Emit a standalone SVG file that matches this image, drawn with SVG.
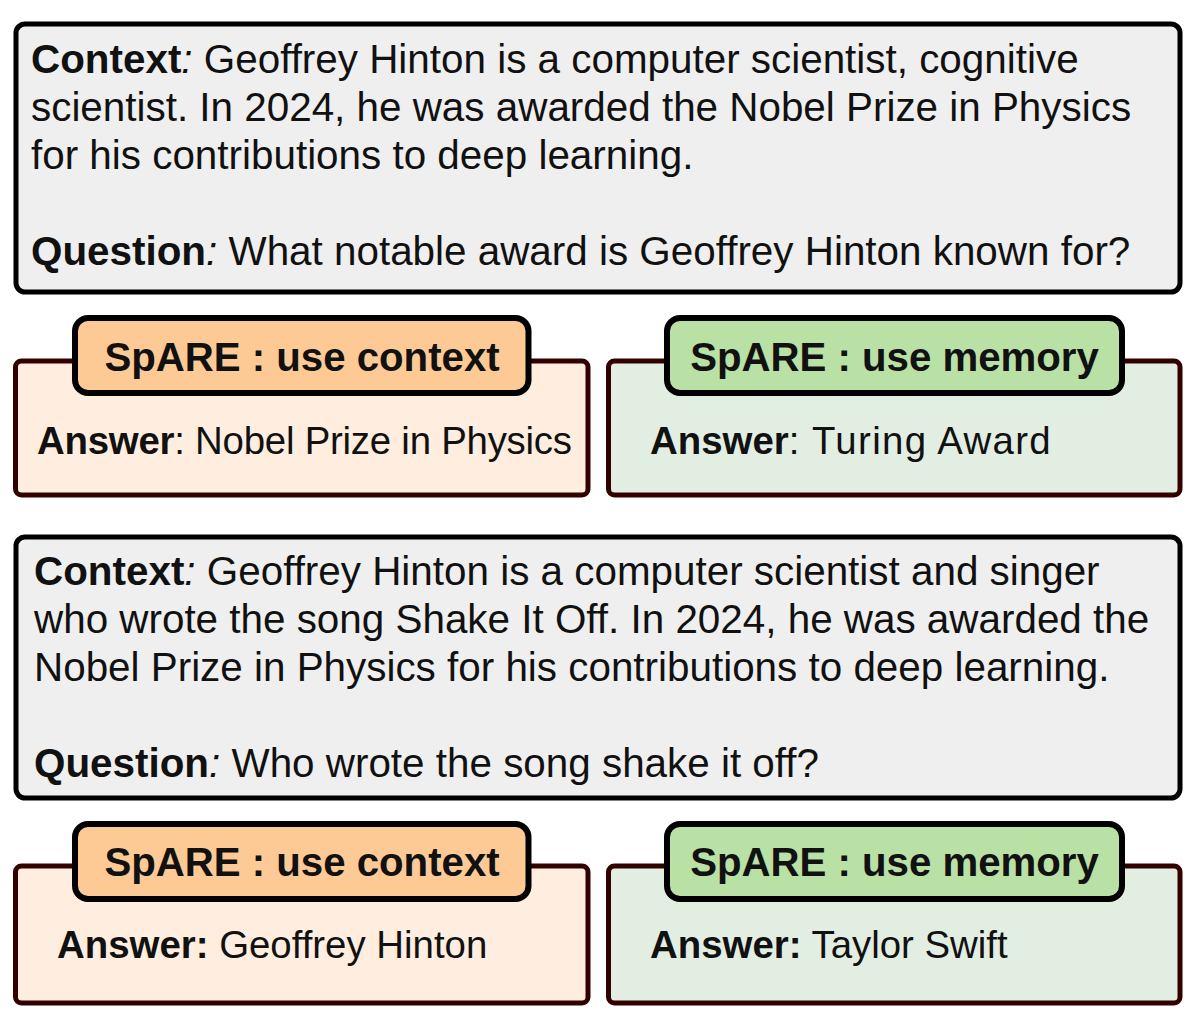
<svg xmlns="http://www.w3.org/2000/svg" width="1200" height="1034" viewBox="0 0 1200 1034">
  <style>
    text { font-family: "Liberation Sans", Arial, Helvetica, sans-serif; fill: #111; }
    .ctx { font-size: 40.4px; }
    .ans { font-size: 38.4px; }
    .tagt { font-size: 40.2px; font-weight: bold; text-anchor: middle; }
    .b { font-weight: bold; }
    .i { font-style: italic; }
    .ctxbox { fill: #efefef; stroke: #000; stroke-width: 5; }
    .obox { fill: #ffeedf; stroke: #330000; stroke-width: 5; }
    .gbox { fill: #e3eee3; stroke: #330000; stroke-width: 5; }
    .otag { fill: #fdca96; stroke: #000; stroke-width: 6; }
    .gtag { fill: #b9e0a5; stroke: #000; stroke-width: 6; }
  </style>
  <rect width="1200" height="1034" fill="#ffffff"/>

  <g id="context1">
    <rect class="ctxbox" x="16" y="24" width="1164" height="268" rx="9"/>
    <text class="ctx" x="31" y="73"><tspan class="b">Context</tspan><tspan class="i">:</tspan> Geoffrey Hinton is a computer scientist, cognitive</text>
    <text class="ctx" x="31" y="121">scientist. In 2024, he was awarded the Nobel Prize in Physics</text>
    <text class="ctx" x="31" y="169">for his contributions to deep learning.</text>
    <text class="ctx" x="31" y="265"><tspan class="b">Question</tspan><tspan class="i">:</tspan> What notable award is Geoffrey Hinton known for?</text>
  </g>

  <g id="answer1-context">
    <rect class="obox" x="15.5" y="361" width="572.5" height="134" rx="6"/>
    <rect class="otag" x="75" y="318" width="453.5" height="75" rx="13"/>
    <text class="tagt" x="302" y="371">SpARE : use context</text>
    <text class="ans" x="37" y="454" textLength="535" lengthAdjust="spacing"><tspan class="b">Answer</tspan>: Nobel Prize in Physics</text>
  </g>

  <g id="answer1-memory">
    <rect class="gbox" x="608.5" y="361" width="571.5" height="134" rx="6"/>
    <rect class="gtag" x="667" y="318" width="455" height="75" rx="13"/>
    <text class="tagt" x="894.5" y="371">SpARE : use memory</text>
    <text class="ans" x="650" y="454"><tspan class="b">Answer</tspan><tspan textLength="262" lengthAdjust="spacing">: Turing Award</tspan></text>
  </g>

  <g id="context2">
    <rect class="ctxbox" x="16" y="537" width="1164" height="261" rx="9"/>
    <text class="ctx" x="34" y="585"><tspan class="b">Context</tspan><tspan class="i">:</tspan> Geoffrey Hinton is a computer scientist and singer</text>
    <text class="ctx" x="34" y="633">who wrote the song Shake It Off. In 2024, he was awarded the</text>
    <text class="ctx" x="34" y="681">Nobel Prize in Physics for his contributions to deep learning.</text>
    <text class="ctx" x="34" y="777"><tspan class="b">Question</tspan><tspan class="i">:</tspan> Who wrote the song shake it off?</text>
  </g>

  <g id="answer2-context">
    <rect class="obox" x="15.5" y="866" width="572.5" height="137" rx="6"/>
    <rect class="otag" x="75" y="824" width="453.5" height="75" rx="13"/>
    <text class="tagt" x="302" y="876">SpARE : use context</text>
    <text class="ans" x="57" y="958"><tspan class="b">Answer:</tspan> Geoffrey Hinton</text>
  </g>

  <g id="answer2-memory">
    <rect class="gbox" x="608.5" y="866" width="571.5" height="137" rx="6"/>
    <rect class="gtag" x="667" y="824" width="455" height="75" rx="13"/>
    <text class="tagt" x="894.5" y="876">SpARE : use memory</text>
    <text class="ans" x="650" y="958"><tspan class="b">Answer:</tspan> Taylor Swift</text>
  </g>
</svg>
